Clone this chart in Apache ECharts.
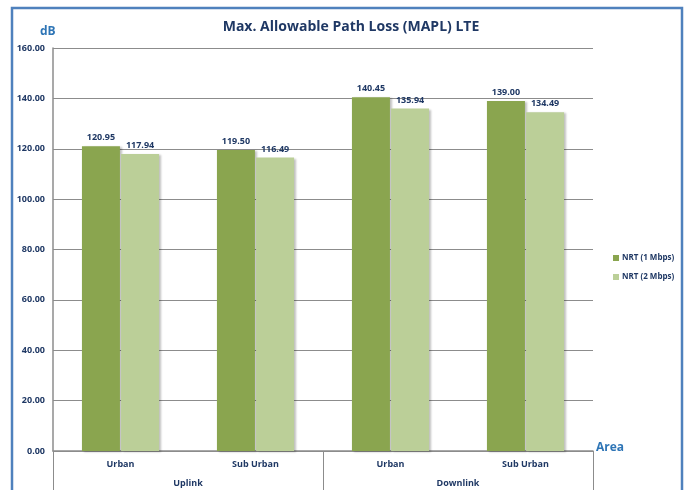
<!DOCTYPE html>
<html lang="en">
  <head>
    <meta charset="UTF-8" />
    <title>MAPL LTE</title>
    <script src="https://cdn.jsdelivr.net/npm/echarts@6/dist/echarts.min.js"></script>
    <style>
      html, body { margin: 0; padding: 0; background: #fff; }
      #main { width: 689px; height: 490px; }
    </style>
  </head>
  <body>
    <div id="main"></div>
    <script>
      // data
      const areas = ["Urban", "Sub Urban", "Urban", "Sub Urban"];
      const links = ["Uplink", "Downlink"];
      const nrt1 = [120.95, 119.5, 140.45, 139.0];
      const nrt2 = [117.94, 116.49, 135.94, 134.49];
      const yTicks = [0, 20, 40, 60, 80, 100, 120, 140, 160];

      const navy = "#1f3864";
      const labelFont = { fontFamily: "Open Sans", fontSize: 9, fontWeight: "bold", color: navy };

      const chart = echarts.init(document.getElementById("main"));
      chart.setOption({
        animation: false,
        title: {
          text: "Max. Allowable Path Loss (MAPL) LTE",
          left: 346,
          top: 15,
          textAlign: "center",
          textStyle: { fontFamily: "Open Sans", fontSize: 14, fontWeight: "bold", color: navy },
        },
        graphic: [
          {
            type: "rect",
            shape: { x: 12, y: 8, width: 670, height: 500 },
            style: { fill: "none", stroke: "#4f81bd", lineWidth: 2.5 },
          },
          {
            type: "text",
            left: 40, top: 26,
            style: { text: "dB", fill: "#2e75b6", font: "bold 12px 'Open Sans'" },
          },
          {
            type: "text",
            left: 596, top: 442,
            style: { text: "Area", fill: "#2e75b6", font: "bold 12px 'Open Sans'" },
          },
        ],
        legend: {
          orient: "vertical",
          left: 608,
          top: 249,
          itemWidth: 6,
          itemHeight: 6,
          itemGap: 11,
          icon: "rect",
          textStyle: { fontFamily: "Open Sans", fontSize: 8, fontWeight: "bold", color: navy, padding: [0, 0, 0, -2] },
        },
        grid: { left: 53, right: 96, top: 48, bottom: 39, containLabel: false },
        xAxis: [
          {
            type: "category",
            data: areas,
            axisLine: { lineStyle: { color: "#8c8c8c", width: 1.5 } },
            axisTick: { show: false },
            axisLabel: Object.assign({ margin: 9, fontSize: 8 }, labelFont),
          },
          {
            type: "category",
            data: links,
            position: "bottom",
            axisLine: { show: false },
            axisTick: { show: true, length: 40, lineStyle: { color: "#8c8c8c" } },
            axisLabel: Object.assign({ margin: 28, fontSize: 8 }, labelFont),
          },
        ],
        yAxis: {
          type: "value",
          min: yTicks[0],
          max: yTicks[yTicks.length - 1],
          interval: 20,
          axisLine: { show: true, lineStyle: { color: "#8c8c8c", width: 1.5 } },
          axisTick: { show: false },
          splitLine: { lineStyle: { color: "#8c8c8c", width: 1 } },
          axisLabel: Object.assign({ margin: 8, formatter: (v) => v.toFixed(2) }, labelFont),
        },
        series: [
          {
            name: "NRT (1 Mbps)",
            type: "bar",
            data: nrt1,
            barWidth: 38,
            barGap: "3%",
            itemStyle: { color: "#8aa54f", shadowColor: "rgba(0,0,0,0.25)", shadowOffsetX: 2, shadowOffsetY: 1, shadowBlur: 2 },
            label: Object.assign({ show: true, position: "top", distance: 4, formatter: (p) => p.value.toFixed(2) }, labelFont),
          },
          {
            name: "NRT (2 Mbps)",
            type: "bar",
            data: nrt2,
            barWidth: 38,
            itemStyle: { color: "#bbcf98", shadowColor: "rgba(0,0,0,0.25)", shadowOffsetX: 2, shadowOffsetY: 1, shadowBlur: 2 },
            label: Object.assign({ show: true, position: "top", distance: 4, formatter: (p) => p.value.toFixed(2) }, labelFont),
          },
        ],
      });
    </script>
  </body>
</html>
